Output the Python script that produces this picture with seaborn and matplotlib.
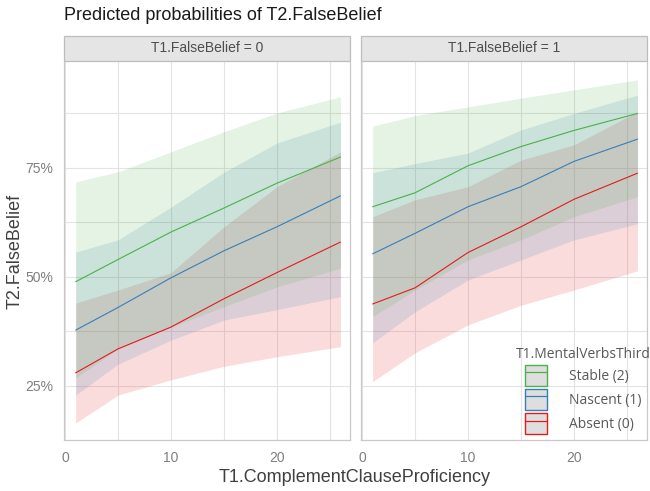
import pandas as pd
import matplotlib
matplotlib.use('Agg')
import matplotlib.pyplot as plt
import seaborn as sns
from matplotlib.patches import Patch, Rectangle
from matplotlib.lines import Line2D
from matplotlib.ticker import FixedLocator, FuncFormatter

# predicted probabilities (%)
x = [1, 5, 10, 15, 20, 26]
groups = ['Stable (2)', 'Nascent (1)', 'Absent (0)']
panels = ['T1.FalseBelief = 0', 'T1.FalseBelief = 1']

# T1.FalseBelief = 0
fb0_stable_fit = [48.9, 54.0, 60.3, 65.8, 71.5, 77.5]
fb0_stable_lo = [26.8, 33.5, 38.5, 43.2, 47.7, 52.0]
fb0_stable_hi = [71.8, 74.1, 78.7, 83.3, 87.6, 91.3]
fb0_nascent_fit = [37.8, 43.0, 49.8, 56.0, 61.5, 68.6]
fb0_nascent_lo = [22.9, 30.0, 35.5, 40.1, 42.5, 45.5]
fb0_nascent_hi = [55.7, 58.5, 66.0, 74.0, 80.7, 85.5]
fb0_absent_fit = [28.0, 33.5, 38.5, 45.0, 51.0, 58.0]
fb0_absent_lo = [16.5, 22.9, 26.4, 29.5, 31.7, 34.0]
fb0_absent_hi = [44.0, 47.0, 51.0, 61.5, 70.7, 78.7]

# T1.FalseBelief = 1
fb1_stable_fit = [66.1, 69.3, 75.5, 79.9, 83.6, 87.5]
fb1_stable_lo = [40.9, 47.0, 53.9, 58.5, 63.8, 68.4]
fb1_stable_hi = [84.6, 87.0, 89.0, 91.0, 92.9, 95.2]
fb1_nascent_fit = [55.3, 60.0, 66.1, 70.7, 76.5, 81.6]
fb1_nascent_lo = [34.9, 42.0, 49.3, 53.9, 58.5, 62.2]
fb1_nascent_hi = [73.9, 76.0, 78.4, 83.7, 87.5, 91.7]
fb1_absent_fit = [43.8, 47.5, 55.6, 61.5, 67.8, 73.8]
fb1_absent_lo = [26.0, 32.6, 39.0, 43.5, 47.0, 51.4]
fb1_absent_hi = [63.8, 67.7, 70.7, 76.8, 80.3, 87.9]

colors = {'Stable (2)': '#4daf4a', 'Nascent (1)': '#377eb8', 'Absent (0)': '#e41a1c'}

rows = []
series = {
    (panels[0], 'Stable (2)'): (fb0_stable_fit, fb0_stable_lo, fb0_stable_hi),
    (panels[0], 'Nascent (1)'): (fb0_nascent_fit, fb0_nascent_lo, fb0_nascent_hi),
    (panels[0], 'Absent (0)'): (fb0_absent_fit, fb0_absent_lo, fb0_absent_hi),
    (panels[1], 'Stable (2)'): (fb1_stable_fit, fb1_stable_lo, fb1_stable_hi),
    (panels[1], 'Nascent (1)'): (fb1_nascent_fit, fb1_nascent_lo, fb1_nascent_hi),
    (panels[1], 'Absent (0)'): (fb1_absent_fit, fb1_absent_lo, fb1_absent_hi),
}
for (p, g), (fit, lo, hi) in series.items():
    for xi, f, l, h in zip(x, fit, lo, hi):
        rows.append({'panel': p, 'group': g, 'x': xi, 'fit': f, 'lo': l, 'hi': h})
df = pd.DataFrame(rows)

sns.set_theme(style='white')
plt.rcParams['font.family'] = ['Liberation Sans', 'DejaVu Sans']

fig = plt.figure(figsize=(6.5, 4.91), dpi=100)
W, H = 650, 491
ax_l = fig.add_axes([64 / W, 1 - 440 / H, 286 / W, 378 / H])
ax_r = fig.add_axes([361 / W, 1 - 440 / H, 286 / W, 378 / H])

for ax, p in zip([ax_l, ax_r], panels):
    sub = df[df['panel'] == p]
    for g in ['Absent (0)', 'Nascent (1)', 'Stable (2)']:
        s = sub[sub['group'] == g]
        ax.fill_between(s['x'], s['lo'], s['hi'], color=colors[g], alpha=0.15,
                        linewidth=0, zorder=2)
    sns.lineplot(data=sub, x='x', y='fit', hue='group', palette=colors,
                 hue_order=['Absent (0)', 'Nascent (1)', 'Stable (2)'],
                 linewidth=0.8, legend=False, ax=ax, zorder=3)
    ax.set_xlim(-0.1, 26.9)
    ax.set_ylim(12.6, 99.3)
    ax.xaxis.set_major_locator(FixedLocator([0, 10, 20]))
    ax.xaxis.set_minor_locator(FixedLocator([5, 15, 25]))
    ax.yaxis.set_major_locator(FixedLocator([25, 50, 75]))
    ax.yaxis.set_minor_locator(FixedLocator([37.5, 62.5, 87.5]))
    ax.grid(which='both', color='#e3e3e3', linewidth=0.8)
    ax.set_axisbelow(True)
    ax.tick_params(which='both', length=0, labelsize=10, labelcolor='#7f7f7f', pad=8)
    ax.yaxis.set_major_formatter(FuncFormatter(lambda v, pos: f'{v:.0f}%'))
    ax.set_xlabel('')
    ax.set_ylabel('')
    for sp in ax.spines.values():
        sp.set_color('#c8c8c8')
        sp.set_linewidth(0.9)
    ax.spines['top'].set_visible(False)
    # facet strip
    ax.add_patch(Rectangle((0, 1 + 1 / 378), 1, 25 / 378, transform=ax.transAxes,
                           facecolor='#e5e5e5', edgecolor='#bdbdbd', linewidth=0.9,
                           clip_on=False))
    ax.text(0.5, 1 + 13.5 / 378, p, transform=ax.transAxes, ha='center', va='center',
            fontsize=10, color='#4d4d4d')

ax_r.tick_params(axis='y', labelleft=False)

fig.text(64 / W, 1 - 15 / H, 'Predicted probabilities of T2.FalseBelief', ha='left',
         va='center', fontsize=13, color='#1a1a1a')
fig.text(355 / W, 1 - 478 / H, 'T1.ComplementClauseProficiency', ha='center',
         va='center', fontsize=13, color='#404040')
fig.text(15 / W, 1 - 251 / H, 'T2.FalseBelief', ha='center', va='center',
         rotation=90, fontsize=13, color='#404040')

handles = []
for g in groups:
    handles.append((Patch(facecolor='#dedede', edgecolor=colors[g], linewidth=1.0),
                    Line2D([], [], color=colors[g], linewidth=0.9)))
leg = fig.legend(handles, groups, title='T1.MentalVerbsThird', loc='upper left',
                 bbox_to_anchor=(506 / W, 1 - 337 / H), frameon=False,
                 prop={'family': 'Open Sans', 'size': 10}, handlelength=1.55,
                 handleheight=2.0, labelspacing=0.2, handletextpad=1.6,
                 borderpad=0.2)
leg.get_title().set_fontproperties({'family': 'Open Sans', 'size': 10})
leg.get_title().set_color('#595959')
for t in leg.get_texts():
    t.set_color('#595959')

fig.savefig('out.png', dpi=100)
